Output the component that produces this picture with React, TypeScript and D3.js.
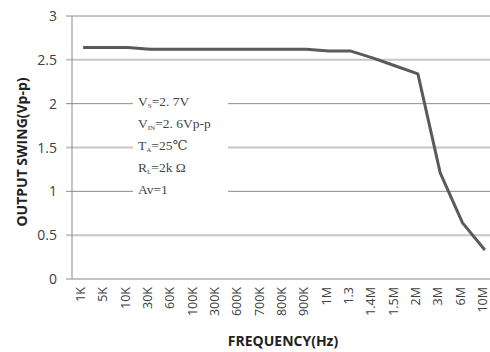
import React from "react";
import * as d3 from "d3";

const categories = ["1K","5K","10K","30K","60K","100K","300K","600K","700K","800K","900K","1M","1.3","1.4M","1.5M","2M","3M","6M","10M"];
const swing = [2.64,2.64,2.64,2.62,2.62,2.62,2.62,2.62,2.62,2.62,2.62,2.60,2.60,2.52,2.43,2.34,1.21,0.64,0.33];
const yTicks = [0,0.5,1,1.5,2,2.5,3];
const noteLines: [string, string, string][] = [
  ["V", "S", "=2. 7V"],
  ["V", "IN", "=2. 6Vp-p"],
  ["T", "A", "=25℃"],
  ["R", "L", "=2k Ω"],
  ["Av=1", "", ""],
];

const W = 490, H = 352;
const left = 72, right = 496, top = 16, bottom = 279;

export default function App() {
  const x = d3.scaleBand<string>().domain(categories).range([left, right]);
  const y = d3.scaleLinear().domain([0, 3]).range([bottom, top]);
  const cx = (c: string) => (x(c) ?? 0) + x.bandwidth() / 2;
  const line = d3.line<number>().x((_, i) => cx(categories[i])).y(d => y(d));
  const sans = "'Open Sans', 'Liberation Sans', sans-serif";
  const serif = "'Liberation Serif', 'DejaVu Serif', serif";
  return (
    <svg width={W} height={H} style={{ position: "absolute", left: 0, top: 0, background: "#fff" }}>
      {yTicks.map(t => {
        const major = Number.isInteger(t);
        return (
          <g key={t}>
            <line x1={left - 6} x2={W} y1={y(t)} y2={y(t)}
              stroke={major ? "#8a8a8a" : "#c6c6c6"} strokeWidth={major ? 1 : 2} />
            <text x={57} y={y(t) + 5} textAnchor="end" fontFamily={sans} fontSize={14} fill="#404040">{t}</text>
          </g>
        );
      })}
      <line x1={left} x2={left} y1={top} y2={bottom} stroke="#8a8a8a" strokeWidth={1} />
      <rect x={133} y={90} width={95} height={110} fill="#fff" />
      {noteLines.map((l, i) => (
        <text key={i} x={138} y={106 + i * 22} fontFamily={serif} fontSize={13.5} fill="#454545">
          {l[0]}
          {l[1] && <tspan fontSize={7} dy={2}>{l[1]}</tspan>}
          {l[2] && <tspan dy={l[1] ? -2 : 0}>{l[2]}</tspan>}
        </text>
      ))}
      <path d={line(swing) ?? ""} fill="none" stroke="#5a5a5a" strokeWidth={3} strokeLinejoin="round" />
      {categories.map(c => (
        <text key={c} transform={`translate(${cx(c) + 2},287) rotate(-90)`} textAnchor="end"
          fontFamily={sans} fontSize={12.5} fill="#404040">{c}</text>
      ))}
      <text x={283} y={346} textAnchor="middle" fontFamily={sans} fontWeight="bold" fontSize={14} fill="#222">FREQUENCY(Hz)</text>
      <text transform={`translate(27,152) rotate(-90)`} textAnchor="middle" fontFamily={sans} fontWeight="bold" fontSize={14} fill="#222">OUTPUT SWING(Vp-p)</text>
    </svg>
  );
}
